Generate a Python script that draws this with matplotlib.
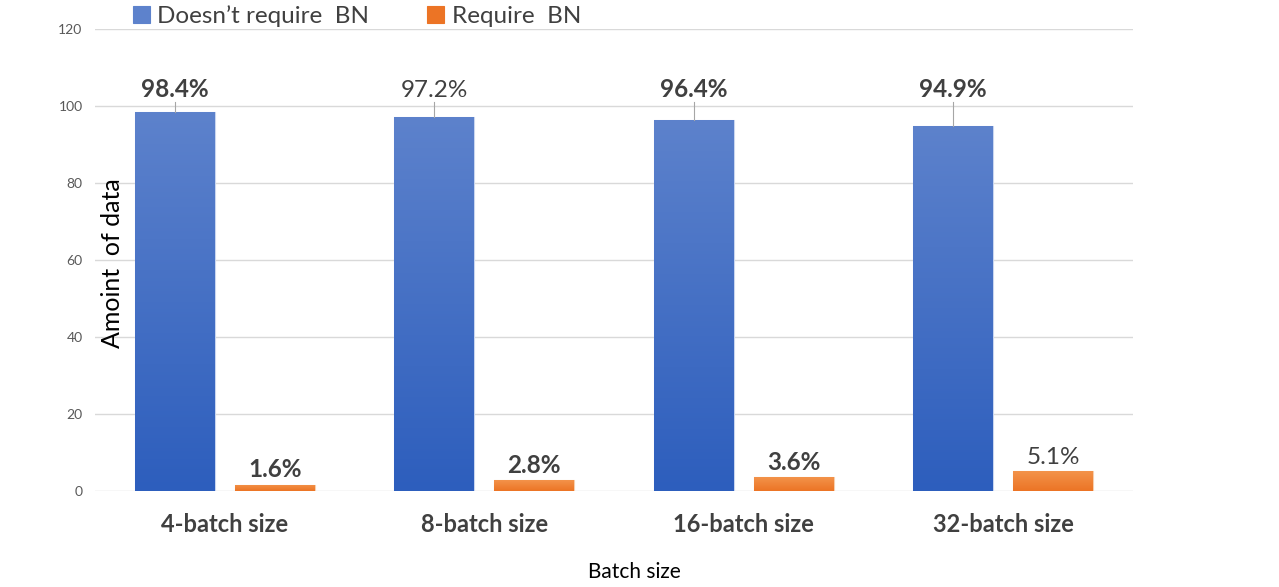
import matplotlib.pyplot as plt
from matplotlib.colors import LinearSegmentedColormap
import numpy as np

plt.rcParams["font.family"] = ["Lato", "DejaVu Sans"]

categories = ["4-batch size", "8-batch size", "16-batch size", "32-batch size"]
no_bn = [98.4, 97.2, 96.4, 94.9]
need_bn = [1.6, 2.8, 3.6, 5.1]
series_names = ["Doesn\u2019t require  BN", "Require  BN"]
no_bn_labels = ["98.4%", "97.2%", "96.4%", "94.9%"]
need_bn_labels = ["1.6%", "2.8%", "3.6%", "5.1%"]
yticks = [0, 20, 40, 60, 80, 100, 120]

# which value labels are bold in the original
no_bn_bold = [True, False, True, True]
need_bn_bold = [True, True, True, False]

BLUE_TOP, BLUE_BOT = "#5d82cc", "#2d5ebd"
ORANGE_TOP, ORANGE_BOT = "#f3934a", "#ec7425"
TEXT = "#404040"

fig = plt.figure(figsize=(12.79, 5.87), dpi=100)
ax = fig.add_axes([0.0743, 0.1635, 0.8115, 0.7871])

x = np.arange(len(categories))
w = 0.308
off = 0.193

b1 = ax.bar(x - off, no_bn, w, color=BLUE_BOT, edgecolor="#c9d6ef", linewidth=0.8,
            label=series_names[0], zorder=2)
b2 = ax.bar(x + off, need_bn, w, color=ORANGE_BOT, edgecolor="#f7cfae", linewidth=0.8,
            label=series_names[1], zorder=2)


def shade(bars, top, bot):
    cmap = LinearSegmentedColormap.from_list("g", [bot, top])
    grad = np.linspace(0, 1, 256).reshape(-1, 1)
    for bar in bars:
        x0, y0 = bar.get_x(), bar.get_y()
        im = ax.imshow(grad, cmap=cmap, origin="lower", aspect="auto",
                       extent=[x0, x0 + bar.get_width(), y0, y0 + bar.get_height()],
                       zorder=2.5)
        im.set_clip_path(bar)


shade(b1, BLUE_TOP, BLUE_BOT)
shade(b2, ORANGE_TOP, ORANGE_BOT)

ax.set_xlim(-0.5, len(categories) - 0.5)
ax.set_ylim(0, 120)
ax.set_yticks(yticks)
ax.grid(axis="y", color="#d9d9d9", linewidth=1, zorder=0)
ax.set_axisbelow(True)
for s in ax.spines.values():
    s.set_visible(False)
ax.tick_params(axis="both", length=0)
ax.tick_params(axis="y", labelsize=10, labelcolor="#595959", pad=9)
ax.set_xticks(x)
ax.set_xticklabels(categories, fontsize=17, fontweight="bold", color=TEXT)
ax.tick_params(axis="x", pad=16)

# value labels with leader lines for the big bars
label_y = 101.2
for bar, lab, bold in zip(b1, no_bn_labels, no_bn_bold):
    cx = bar.get_x() + bar.get_width() / 2
    ax.plot([cx, cx], [bar.get_height(), label_y - 0.2], color="#a6a6a6", lw=0.8, zorder=3)
    ax.text(cx, label_y, lab, ha="center", va="bottom", fontsize=17.5,
            fontweight="bold" if bold else "normal", color=TEXT, zorder=4)

for bar, lab, bold in zip(b2, need_bn_labels, need_bn_bold):
    cx = bar.get_x() + bar.get_width() / 2
    ax.text(cx, bar.get_height() + 0.9, lab, ha="center", va="bottom", fontsize=17.5,
            fontweight="bold" if bold else "normal", color=TEXT, zorder=4)

leg = ax.legend(ncol=2, frameon=False, loc="center left", bbox_to_anchor=(0.027, 1.028),
                fontsize=17.5, handlelength=0.7, handleheight=0.7, handletextpad=0.3,
                columnspacing=2.4, borderaxespad=0)
for t in leg.get_texts():
    t.set_color(TEXT)
for h, c in zip(leg.legend_handles, [BLUE_TOP, ORANGE_BOT]):
    h.set_facecolor(c)
    h.set_edgecolor(c)

fig.text(112 / 1279, 1 - 263 / 587, "Amoint  of data", rotation=90, ha="center",
         va="center", fontsize=18, color="black")
fig.text(634 / 1279, 1 - 572 / 587, "Batch size", ha="center", va="center",
         fontsize=15, color="black")

fig.savefig("out.png", dpi=100, facecolor="white")
